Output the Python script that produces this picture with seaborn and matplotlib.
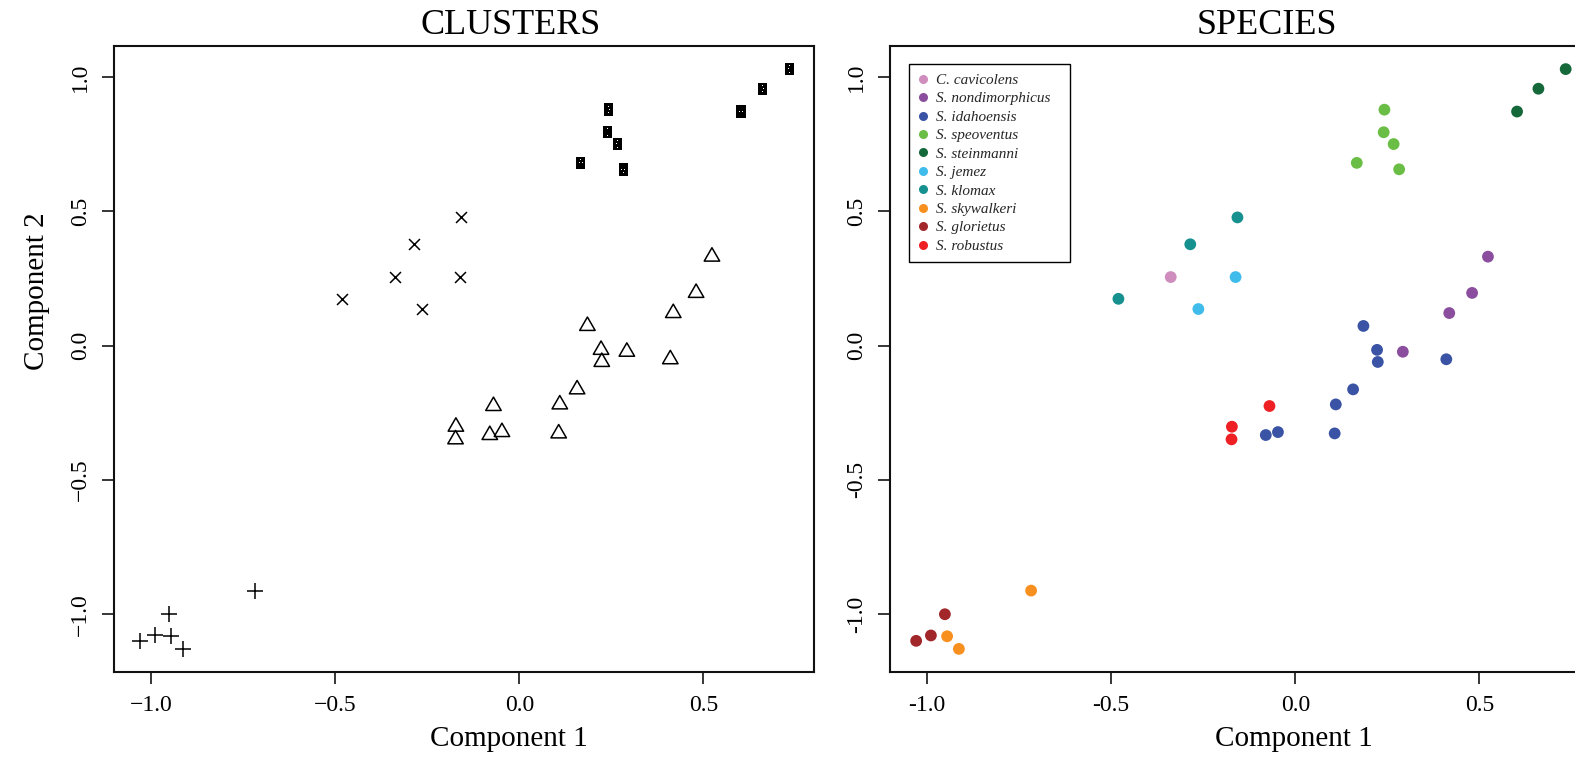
import numpy as np
import pandas as pd
import matplotlib
matplotlib.use("Agg")
import matplotlib.pyplot as plt
import seaborn as sns
from matplotlib.path import Path
from matplotlib.patches import Rectangle

# ---------------- data ----------------
species_order = ["C. cavicolens", "S. nondimorphicus", "S. idahoensis", "S. speoventus",
                 "S. steinmanni", "S. jemez", "S. klomax", "S. skywalkeri",
                 "S. glorietus", "S. robustus"]
species_colors = ["#CF8DBE", "#8B4E9E", "#3A53A4", "#6BBE45", "#15683A",
                  "#40BCEB", "#16918F", "#F7901E", "#A1272B", "#EE2024"]

comp1 = [-0.338,
         0.523, 0.480, 0.418, 0.292,
         0.185, 0.222, 0.224, 0.410, 0.157, 0.110, 0.107, -0.047, -0.080,
         0.242, 0.240, 0.267, 0.167, 0.282,
         0.734, 0.660, 0.602,
         -0.162, -0.263,
         -0.157, -0.285, -0.480,
         -0.717, -0.945, -0.913,
         -0.951, -0.989, -1.029,
         -0.070, -0.172, -0.173]
comp2 = [0.255,
         0.331, 0.196, 0.121, -0.023,
         0.073, -0.016, -0.061, -0.051, -0.163, -0.219, -0.327, -0.322, -0.333,
         0.878, 0.794, 0.750, 0.680, 0.656,
         1.029, 0.956, 0.871,
         0.255, 0.136,
         0.477, 0.377, 0.174,
         -0.912, -1.082, -1.129,
         -1.000, -1.079, -1.099,
         -0.225, -0.302, -0.349]
species = (["C. cavicolens"] + ["S. nondimorphicus"] * 4 + ["S. idahoensis"] * 9 +
           ["S. speoventus"] * 5 + ["S. steinmanni"] * 3 + ["S. jemez"] * 2 +
           ["S. klomax"] * 3 + ["S. skywalkeri"] * 3 + ["S. glorietus"] * 3 +
           ["S. robustus"] * 3)
cluster_of_species = {"C. cavicolens": "B", "S. nondimorphicus": "C", "S. idahoensis": "C",
                      "S. speoventus": "D", "S. steinmanni": "D", "S. jemez": "B",
                      "S. klomax": "B", "S. skywalkeri": "A", "S. glorietus": "A",
                      "S. robustus": "C"}
cluster = [cluster_of_species[s] for s in species]

xticks = [-1.0, -0.5, 0.0, 0.5]
yticks = [-1.0, -0.5, 0.0, 0.5, 1.0]
xticklabels_left = ["\u22121.0", "\u22120.5", "0.0", "0.5"]
yticklabels_left = ["\u22121.0", "\u22120.5", "0.0", "0.5", "1.0"]
xticklabels_right = ["-1.0", "-0.5", "0.0", "0.5"]
yticklabels_right = ["-1.0", "-0.5", "0.0", "0.5", "1.0"]

df = pd.DataFrame({"comp1": comp1, "comp2": comp2, "species": species, "cluster": cluster})

# ---------------- markers ----------------
def rect_with_dots():
    w, h = 0.37, 0.5
    verts, codes = [], []
    def add(poly):
        verts.extend(poly + [poly[0]])
        codes.extend([Path.MOVETO] + [Path.LINETO] * (len(poly) - 1) + [Path.CLOSEPOLY])
    add([(-w, -h), (w, -h), (w, h), (-w, h)])
    d = 0.035
    for cx, cy in [(0.0, 0.27), (-0.11, 0.02), (0.11, 0.02), (0.0, -0.25)]:
        add([(cx - d, cy - d), (cx - d, cy + d), (cx + d, cy + d), (cx + d, cy - d)])
    return Path(verts, codes)

tri = Path([(0, 0.577), (-0.5, -0.289), (0.5, -0.289), (0, 0.577)],
           [Path.MOVETO, Path.LINETO, Path.LINETO, Path.CLOSEPOLY])

# ---------------- figure ----------------
sns.set_theme(style="white")
plt.rcParams["font.family"] = ["Liberation Serif", "DejaVu Serif"]
plt.rcParams["axes.unicode_minus"] = False

W, H = 1575, 757
fig = plt.figure(figsize=(W / 100, H / 100), dpi=100)
axL = fig.add_axes([114 / W, 1 - 672 / H, 700 / W, 626 / H])
axR = fig.add_axes([890 / W, 1 - 672 / H, 700 / W, 626 / H])

# Left: clusters
subA = df[df.cluster == "A"]
subB = df[df.cluster == "B"]
subC = df[df.cluster == "C"]
subD = df[df.cluster == "D"]
sns.scatterplot(data=subA, x="comp1", y="comp2", marker="+", s=120, color="black",
                linewidth=1.1, ax=axL, legend=False)
sns.scatterplot(data=subB, x="comp1", y="comp2", marker="x", s=62, color="black",
                linewidth=1.1, ax=axL, legend=False)
sns.scatterplot(data=subC, x="comp1", y="comp2", marker=tri, s=165, facecolor="none",
                edgecolor="black", linewidth=1.1, ax=axL, legend=False)
sns.scatterplot(data=subD, x="comp1", y="comp2", marker=rect_with_dots(), s=80,
                color="black", edgecolor="none", linewidth=0, ax=axL, legend=False)
for coll in axL.collections[2:3]:
    coll.set_facecolor("none")
    coll.set_edgecolor("black")

# Right: species
sns.scatterplot(data=df, x="comp1", y="comp2", hue="species", hue_order=species_order,
                palette=species_colors, s=72, linewidth=0, ax=axR, legend=True)

for ax, xl, yl in [(axL, xticklabels_left, yticklabels_left),
                   (axR, xticklabels_right, yticklabels_right)]:
    ax.set_xlim(-1.10, 0.80)
    ax.set_ylim(-1.215, 1.115)
    ax.set_xticks(xticks)
    ax.set_xticklabels(xl)
    ax.set_yticks(yticks)
    ax.set_yticklabels(yl, rotation=90, va="center")
    ax.tick_params(axis="both", direction="out", length=8.6, width=1.1, color="black",
                   labelsize=17, labelcolor="black", bottom=True, left=True)
    ax.tick_params(axis="x", pad=8)
    ax.tick_params(axis="y", pad=8)
    for sp in ax.spines.values():
        sp.set_color("#111111")
        sp.set_linewidth(1.5)
    ax.set_xlabel("Component 1", fontsize=21, color="black")
    ax.set_ylabel("")
    ax.grid(False)

axL.set_ylabel("Component 2", fontsize=21, color="black")
axL.yaxis.set_label_coords(-0.092, 0.609)
axL.xaxis.set_label_coords(0.564, -0.087)
axR.xaxis.set_label_coords(0.577, -0.087)

axL.set_title("CLUSTERS", fontsize=26, x=0.566, y=1.019, pad=0, color="black")
axR.set_title("SPECIES", fontsize=26, x=0.539, y=1.019, pad=0, color="black")

handles, labels = axR.get_legend_handles_labels()
for h in handles:
    h.set_markersize(6.5)
leg = axR.legend(handles, labels, loc="upper left", bbox_to_anchor=(0.027, 0.971),
                 borderaxespad=0, frameon=False,
                 prop={"family": "Liberation Serif", "style": "italic", "size": 11},
                 handlelength=0.6, handletextpad=0.6, labelspacing=0.31, borderpad=0.6)

# frame around legend, a bit wider on the right like the reference
fig.canvas.draw()
bb = leg.get_window_extent().transformed(axR.transAxes.inverted())
extra = 10 / 700
frame = Rectangle((bb.x0, bb.y0), bb.width + extra, bb.height, transform=axR.transAxes,
                  facecolor="white", edgecolor="black", linewidth=1.0, zorder=4)
axR.add_patch(frame)
leg.set_zorder(5)

fig.savefig("out.png", dpi=100)
